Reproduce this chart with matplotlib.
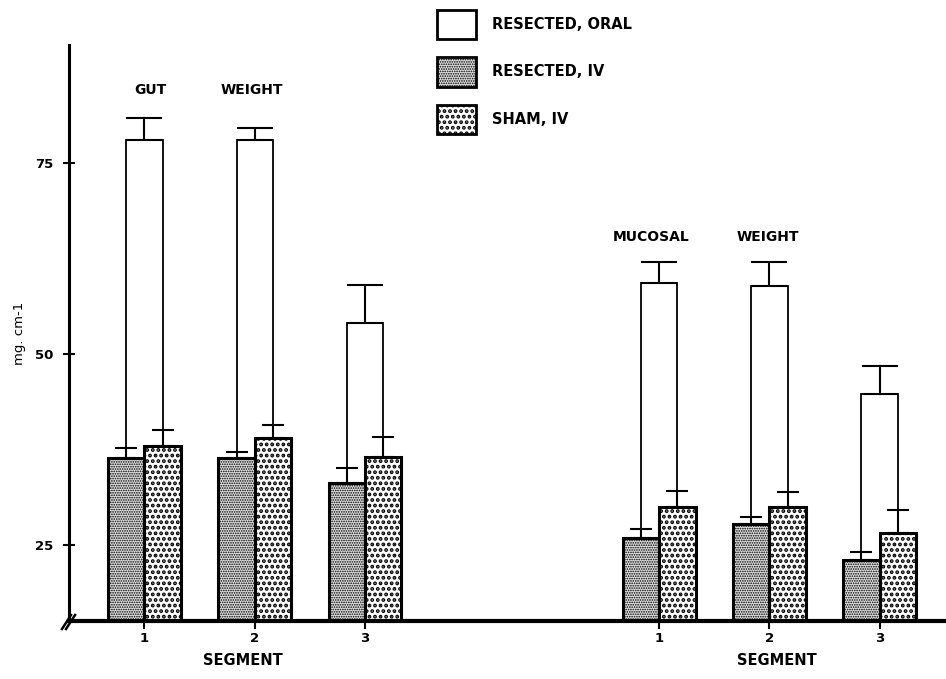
import numpy as np
import matplotlib
matplotlib.use('Agg')
from matplotlib import pyplot as plt
from matplotlib.patches import Patch

plt.rcParams['font.family'] = ['DejaVu Sans']
plt.rcParams['font.weight'] = 'bold'

segments = ['1', '2', '3']
series_labels = ['RESECTED, ORAL', 'RESECTED, IV', 'SHAM, IV']

# gut weight (mg.cm-1), mean and upper SE
gut_oral = [78.0, 78.0, 54.1]
gut_oral_se = [2.9, 1.6, 4.9]
gut_res_iv = [36.3, 36.3, 33.1]
gut_res_iv_se = [1.4, 0.8, 1.9]
gut_sham_iv = [38.0, 39.0, 36.5]
gut_sham_iv_se = [2.0, 1.7, 2.6]

# mucosal weight (mg.cm-1)
muc_oral = [59.3, 58.9, 44.8]
muc_oral_se = [2.7, 3.1, 3.6]
muc_res_iv = [25.9, 27.7, 23.0]
muc_res_iv_se = [1.1, 0.9, 1.0]
muc_sham_iv = [30.0, 29.9, 26.6]
muc_sham_iv_se = [2.0, 2.0, 2.9]

W = 0.33
GRAY = '#dedede'
FINE = '.' * 7
COARSE = '.' * 3
FINE_LW = 0.8
COARSE_LW = 1.9


def set_hatch_lw(patch, lw):
    if hasattr(patch, 'set_hatch_linewidth'):
        patch.set_hatch_linewidth(lw)
    else:
        patch._hatch_linewidth = lw


def draw_group(ax, x, oral, oral_se, res, res_se, sham, sham_se):
    zeros = np.zeros(len(x))
    ax.bar(x, oral, W, facecolor='white', edgecolor='black', linewidth=1.3, zorder=1)
    fine = ax.bar(x - W / 2, res, W, facecolor=GRAY, edgecolor='black', hatch=FINE,
                  linewidth=2.2, zorder=2)
    coarse = ax.bar(x + W / 2, sham, W, facecolor='white', edgecolor='black',
                    hatch=COARSE, linewidth=2.2, zorder=2)
    for p in fine:
        set_hatch_lw(p, FINE_LW)
    for p in coarse:
        set_hatch_lw(p, COARSE_LW)
    ax.errorbar(x, oral, yerr=[zeros, oral_se], fmt='none', ecolor='black',
                elinewidth=1.5, capsize=13, capthick=1.5, zorder=3)
    ax.errorbar(x - W / 2, res, yerr=[zeros, res_se], fmt='none', ecolor='black',
                elinewidth=1.5, capsize=8, capthick=1.5, zorder=3)
    ax.errorbar(x + W / 2, sham, yerr=[zeros, sham_se], fmt='none', ecolor='black',
                elinewidth=1.5, capsize=8, capthick=1.5, zorder=3)


fig = plt.figure(figsize=(9.46, 6.79), dpi=100)
ax = fig.add_axes([69 / 946, 58 / 679, 1 - 69 / 946, 576 / 679])

x_gut = np.arange(1, len(segments) + 1, dtype=float)
x_muc = x_gut + 4.67

draw_group(ax, x_gut, gut_oral, gut_oral_se, gut_res_iv, gut_res_iv_se,
           gut_sham_iv, gut_sham_iv_se)
draw_group(ax, x_muc, muc_oral, muc_oral_se, muc_res_iv, muc_res_iv_se,
           muc_sham_iv, muc_sham_iv_se)

ax.set_xlim(0.315, 8.273)
ax.set_ylim(15, 90.5)

for side in ['top', 'right']:
    ax.spines[side].set_visible(False)
ax.spines['left'].set_linewidth(2.2)
ax.spines['bottom'].set_linewidth(3.0)
ax.spines['bottom'].set_zorder(5)

ax.set_yticks([25, 50, 75])
ax.tick_params(axis='y', direction='inout', length=9, width=1.5, pad=6.5, labelsize=9.5)
ax.set_xticks(np.concatenate([x_gut, x_muc]))
ax.set_xticklabels(segments + segments)
ax.tick_params(axis='x', direction='out', length=6, width=1.5, pad=2, labelsize=9.5)

ax.set_ylabel('mg. cm-1', fontsize=9.5)
ax.yaxis.set_label_coords(-0.049, 0.5)

# group titles and axis titles
ax.text(x_gut[0] + 0.05, 84.6, 'GUT', ha='center', va='center', fontsize=10)
ax.text(x_gut[1] - 0.03, 84.6, 'WEIGHT', ha='center', va='center', fontsize=10)
ax.text(x_muc[0] - 0.07, 65.3, 'MUCOSAL', ha='center', va='center', fontsize=10)
ax.text(x_muc[1] - 0.01, 65.3, 'WEIGHT', ha='center', va='center', fontsize=10)
trans = ax.get_xaxis_transform()
ax.text(x_gut[1] - 0.11, -0.068, 'SEGMENT', transform=trans, ha='center', va='center',
        fontsize=10.5)
ax.text(x_muc[1] + 0.07, -0.068, 'SEGMENT', transform=trans, ha='center', va='center',
        fontsize=10.5)

# axis break marks
for dx in (0.0, 0.0046):
    ax.plot([-0.008 + dx, 0.0023 + dx], [-0.0139, 0.0104], transform=ax.transAxes,
            color='black', lw=1.8, clip_on=False, zorder=6)

handles = [
    Patch(facecolor='white', edgecolor='black', linewidth=2.0),
    Patch(facecolor=GRAY, edgecolor='black', hatch=FINE, linewidth=2.0),
    Patch(facecolor='white', edgecolor='black', hatch=COARSE, linewidth=2.0),
]
leg = fig.legend(handles, series_labels, loc='upper left',
                 bbox_to_anchor=(437 / 946, 1 - 10 / 679), frameon=False, borderpad=0,
                 borderaxespad=0, handlelength=2.7, handleheight=2.7, labelspacing=1.25,
                 handletextpad=1.1, prop=dict(size=10.5, weight='bold'))
leg_patches = leg.get_patches()
set_hatch_lw(leg_patches[1], FINE_LW)
set_hatch_lw(leg_patches[2], COARSE_LW)

fig.savefig('out.png', dpi=100)
